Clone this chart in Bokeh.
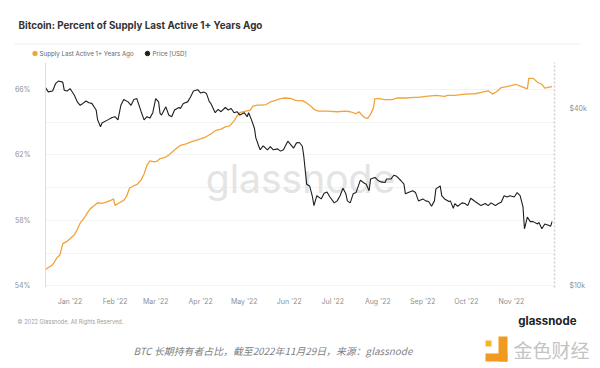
import pandas as pd
from bokeh.plotting import figure
from bokeh.layouts import column
from bokeh.models import (Range1d, LinearAxis, LogAxis, LogScale, FixedTicker, PrintfTickFormatter,
                          DatetimeTickFormatter, MonthsTicker, Label)
from bokeh.core.properties import value
from bokeh.embed import file_html
from bokeh.resources import INLINE

# ---------------- data ----------------
BASE_DATE = "2022-01-01"

# Price [USD] (thousands), day offsets from 2022-01-01
price_day = [-17, -15, -12, -10, -8, -5, -4, -2, 0, 3, 5, 7, 8, 11, 13, 15, 18, 19, 21, 22, 26, 29, 31, 33,
             35, 37, 40, 42, 44, 46, 49, 51, 53, 55, 57, 59, 61, 62, 63, 66, 68, 70, 72, 75, 76, 78, 81, 83,
             85, 88, 90, 92, 94, 96, 97, 100, 102, 104, 107, 109, 111, 113, 115, 117, 120, 122, 123, 125, 127,
             128, 130, 131, 133, 136, 138, 140, 143, 145, 147, 150, 152, 154, 156, 158, 160, 161, 163, 165,
             167, 168, 170, 173, 175, 177, 179, 182, 184, 186, 188, 190, 191, 193, 195, 197, 200, 202, 204,
             206, 207, 210, 212, 214, 217, 218, 221, 223, 225, 228, 230, 231, 233, 236, 238, 240, 243, 245,
             247, 249, 251, 252, 255, 256, 258, 261, 262, 264, 265, 267, 270, 272, 274, 276, 279, 281, 283,
             286, 288, 290, 293, 295, 297, 299, 301, 303, 306, 308, 310, 312, 313, 315, 317, 319, 322, 323,
             325, 327, 330, 331, 332]
price_k = [47.1, 45.4, 45.7, 48.4, 49.4, 49.0, 46.0, 45.7, 46.6, 44.2, 42.0, 40.9, 41.2, 42.3, 41.7, 41.5,
           39.4, 36.5, 34.6, 35.6, 36.5, 37.2, 37.4, 36.5, 40.9, 42.8, 42.0, 40.9, 42.8, 43.1, 38.9, 36.5,
           37.4, 37.0, 38.6, 43.1, 42.0, 38.4, 37.9, 40.4, 37.9, 37.4, 39.4, 40.2, 39.9, 41.5, 42.0, 43.6,
           45.7, 46.2, 45.0, 45.4, 44.8, 42.0, 41.5, 38.6, 39.6, 38.9, 40.2, 39.4, 39.9, 38.6, 38.9, 37.9,
           38.6, 37.4, 38.6, 36.5, 34.2, 31.7, 29.7, 28.9, 29.8, 28.9, 29.6, 28.9, 29.1, 28.6, 28.9, 30.9,
           30.1, 29.3, 30.5, 30.6, 29.7, 27.5, 22.1, 21.8, 20.0, 18.7, 20.2, 19.7, 20.6, 20.8, 20.0, 19.1,
           19.4, 20.2, 21.4, 20.5, 19.4, 19.1, 20.5, 20.7, 22.8, 22.4, 22.1, 21.0, 23.0, 23.3, 22.8, 22.5,
           22.4, 23.0, 23.0, 23.7, 23.5, 22.7, 22.1, 20.5, 20.7, 21.0, 20.7, 19.4, 19.7, 19.4, 19.3, 18.6,
           19.4, 21.3, 21.8, 20.2, 19.7, 19.3, 19.4, 18.3, 19.0, 18.6, 19.1, 19.0, 18.7, 19.8, 19.3, 19.0,
           18.7, 19.0, 18.7, 19.1, 18.7, 19.0, 19.2, 20.2, 20.0, 20.2, 20.0, 20.7, 20.2, 18.5, 15.6, 17.1,
           16.5, 16.5, 16.2, 16.4, 15.6, 16.2, 16.0, 15.9, 16.5]

# Percent of supply last active 1+ years ago
supply_day = [-17, -15, -12, -9, -7, -5, -2, 0, 3, 5, 7, 10, 12, 14, 17, 19, 22, 25, 28, 30, 31, 34, 37,
              39, 41, 44, 46, 49, 51, 53, 55, 58, 60, 62, 65, 68, 69, 73, 76, 80, 83, 86, 90, 93, 97, 100,
              104, 107, 110, 113, 115, 117, 121, 124, 126, 129, 132, 135, 138, 141, 145, 148, 152, 154, 156,
              160, 163, 166, 168, 171, 177, 184, 190, 193, 197, 199, 201, 203, 205, 207, 209, 210, 213, 217,
              222, 225, 231, 237, 240, 245, 252, 258, 260, 265, 272, 279, 284, 288, 291, 294, 297, 301, 307,
              311, 315, 316, 319, 322, 325, 327, 330, 332]
supply_pct = [54.98, 55.12, 55.28, 55.72, 55.88, 56.58, 56.72, 56.88, 57.12, 57.44, 57.84, 58.18, 58.48,
              58.72, 58.92, 59.08, 59.04, 59.12, 59.22, 59.32, 58.92, 59.08, 59.22, 59.48, 59.98, 60.12,
              60.18, 60.48, 60.84, 61.38, 61.64, 61.58, 61.62, 61.78, 61.84, 61.98, 62.08, 62.38, 62.58,
              62.68, 62.78, 62.88, 62.98, 63.08, 63.28, 63.48, 63.58, 63.72, 63.78, 64.08, 64.38, 64.58,
              64.68, 64.72, 64.98, 65.04, 65.04, 65.08, 65.24, 65.32, 65.44, 65.48, 65.46, 65.38, 65.32,
              65.32, 65.18, 64.98, 64.78, 64.68, 64.68, 64.64, 64.68, 64.64, 64.52, 64.64, 64.44, 64.28,
              64.24, 64.48, 64.88, 65.44, 65.44, 65.38, 65.38, 65.48, 65.48, 65.52, 65.52, 65.58, 65.64,
              65.58, 65.64, 65.64, 65.72, 65.74, 65.84, 65.92, 65.72, 65.88, 66.12, 66.18, 66.32, 66.18,
              66.04, 66.68, 66.68, 66.44, 66.32, 66.08, 66.14, 66.18]

left_ticks = [54, 58, 62, 66]
right_ticks = [10000, 40000]
right_labels = {10000: "$10k", 40000: "$40k"}

TITLE = "Bitcoin: Percent of Supply Last Active 1+ Years Ago"
LEG1 = "Supply Last Active 1+ Years Ago"
LEG2 = "Price [USD]"
COPY = "\u00a9 2022 Glassnode. All Rights Reserved."
BRAND = "glassnode"
CAPTION = "BTC 长期持有者占比，截至2022年11月29日，来源：glassnode"
LOGO_TEXT = "金色财经"

# ---------------- build ----------------
base = pd.Timestamp(BASE_DATE)
p_dates = base + pd.to_timedelta(price_day, unit="D")
s_dates = base + pd.to_timedelta(supply_day, unit="D")
p_vals = [v * 1000 for v in price_k]

ORANGE = "#F2A33A"
W = 600


def blank(h):
    f = figure(width=W, height=h, output_backend="svg", toolbar_location=None,
               x_range=Range1d(0, W), y_range=Range1d(h, 0),
               min_border=0, x_axis_location=None, y_axis_location=None)
    f.frame_align = False
    f.outline_line_color = None
    f.xgrid.visible = False
    f.ygrid.visible = False
    return f


def txt(f, x, y, text, size, color, font="Inter", style="normal", align="left"):
    f.text(x=[x], y=[y], text=[text], text_font=value(font), text_font_size=size,
           text_color=color, text_font_style=style, text_align=align, text_baseline="middle")


# header
hdr = blank(60)
txt(hdr, 18, 25, TITLE, "9.8px", "#333333", style="bold")
hdr.segment(x0=[14], y0=[43.5], x1=[580], y1=[43.5], line_color="#eeeeee", line_width=1)
hdr.scatter(x=[34.5], y=[53], size=4.5, color=ORANGE)
txt(hdr, 39, 53, LEG1, "6.2px", "#666666")
hdr.scatter(x=[147], y=[53], size=4.5, color="#1e1e1e")
txt(hdr, 152, 53, LEG2, "6.2px", "#666666")

# main chart
p = figure(width=W, height=248, output_backend="svg", toolbar_location=None,
           x_axis_type="datetime", y_axis_location=None,
           x_range=Range1d(base - pd.Timedelta(days=16.9), base + pd.Timedelta(days=333.7)),
           y_range=Range1d(53.9, 67.65),
           min_border_left=45, min_border_right=46, min_border_top=2, min_border_bottom=18)
p.frame_align = False
p.extra_y_ranges = {"price": Range1d(9870, 57100)}
p.extra_y_scales = {"price": LogScale()}
p.outline_line_color = None

la = LinearAxis(ticker=FixedTicker(ticks=left_ticks), formatter=PrintfTickFormatter(format="%d%%"))
la.axis_line_color = "#F8D9B4"
la.major_tick_line_color = None
la.minor_tick_line_color = None
la.major_label_text_color = "#8f8f8f"
la.major_label_text_font = "Inter"
la.major_label_text_font_size = "7px"
la.major_label_standoff = 9
p.add_layout(la, "left")

ra = LogAxis(y_range_name="price", ticker=FixedTicker(ticks=right_ticks))
ra.major_label_overrides = right_labels
ra.axis_line_color = "#cfcfcf"
ra.axis_line_dash = "2 2"
ra.axis_line_width = 1.5
ra.major_tick_line_color = None
ra.minor_tick_line_color = None
ra.major_label_text_color = "#8f8f8f"
ra.major_label_text_font = "Inter"
ra.major_label_text_font_size = "7px"
ra.major_label_standoff = 9
p.add_layout(ra, "right")

xa = p.xaxis[0]
xa.ticker = MonthsTicker(months=list(range(12)))
xa.formatter = DatetimeTickFormatter(months="%b '%y", days="%b '%y")
xa.axis_line_color = None
xa.major_tick_line_color = None
xa.minor_tick_line_color = None
xa.major_label_text_color = "#8f8f8f"
xa.major_label_text_font = "Inter"
xa.major_label_text_font_size = "7px"
xa.major_label_standoff = 3

p.xgrid.grid_line_color = None
p.ygrid.ticker = FixedTicker(ticks=[54, 56, 58, 60, 62, 64, 66])
p.ygrid.grid_line_color = "#f3f3f3"

p.add_layout(Label(x=300, y=118, x_units="canvas", y_units="canvas", text="glassnode",
                   text_font="Inter", text_font_size="39px", text_color="#e4e4e4",
                   text_align="center", text_baseline="middle", level="underlay"))

p.line(s_dates, supply_pct, line_color=ORANGE, line_width=1.3)
p.line(p_dates, p_vals, y_range_name="price", line_color="#1e1e1e", line_width=1.1)

# footer
ftr = blank(60)
txt(ftr, 17, 13, COPY, "5.6px", "#a0a0a0")
txt(ftr, 576, 12, BRAND, "11.5px", "#222222", style="bold", align="right")
txt(ftr, 133, 42, CAPTION, "9.9px", "#808080", font="Noto Sans CJK SC", style="italic")
ftr.quad(left=[485, 498, 485], right=[491, 507, 507], top=[32, 28, 45], bottom=[38, 53, 53],
         fill_color=["#F6B626", "#F29A1F", "#F29A1F"], line_color=None)
txt(ftr, 513, 41, LOGO_TEXT, "19px", "#c4c4c4", font="Noto Sans CJK SC")

layout = column(hdr, p, ftr, spacing=0)
open("out.html", "w").write(file_html(layout, INLINE))
